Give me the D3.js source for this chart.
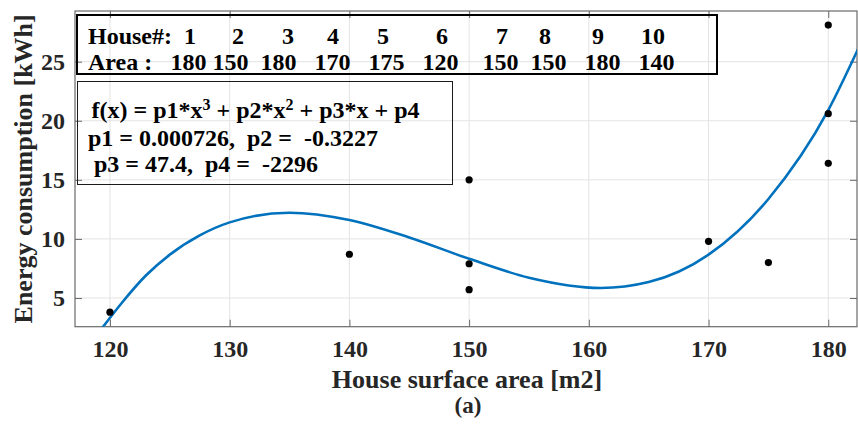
<!DOCTYPE html>
<html>
<head>
<meta charset="utf-8">
<script src="https://cdn.jsdelivr.net/npm/d3@7"></script>
<style>
  html, body { margin: 0; padding: 0; background: #fff; }
  svg { display: block; font-family: "Liberation Serif", "Times New Roman", serif; font-weight: bold; }
  text { white-space: pre; }
</style>
</head>
<body>
<svg id="chart" width="858" height="425"></svg>
<script>
// house table (shown in the top box)
const houseNo = [1, 2, 3, 4, 5, 6, 7, 8, 9, 10];
const houseArea = [180, 150, 180, 170, 175, 120, 150, 150, 180, 140];
// measured consumption, same order as the houses
const houseEnergy = [28.1, 7.9, 20.6, 9.8, 8.0, 3.8, 15.0, 5.7, 16.4, 8.7];

// fitted cubic, points
const fitX = [119.3, 121, 123, 125, 127.5, 130, 135, 140, 145, 150, 155, 161, 165, 170, 175, 180, 182.5];
const fitY = [2.4, 4.6, 6.9, 8.67, 10.3, 11.4, 12.22, 11.6, 10.12, 8.32, 6.72, 5.85, 6.35, 8.67, 13.38, 20.9, 26.1];
const fitCoef = ["0.000726", "-0.3227", "47.4", "-2296"];

const xTicks = [120, 130, 140, 150, 160, 170, 180];
const yTicks = [5, 10, 15, 20, 25];

// --- layout ---
const plot = { left: 75, right: 857, top: 11, bottom: 326.7 };
// column centres of the table text (pixels)
const row1X = [190, 238, 288, 333, 383, 442, 502, 545, 598, 653];
const row2X = [188.5, 230.5, 278.5, 332.5, 386.5, 440.5, 500.5, 548.5, 602.5, 656.5];

const svg = d3.select("#chart");

const x = d3.scaleLinear().domain([117.08, 182.4]).range([plot.left, plot.right]);
const y = d3.scaleLinear().domain([2.57, 29.29]).range([plot.bottom, plot.top]);

// grid
const grid = svg.append("g").attr("stroke", "#e3e3e3").attr("stroke-width", 1);
grid.selectAll(".gx").data(xTicks).join("line")
    .attr("x1", d => x(d)).attr("x2", d => x(d))
    .attr("y1", plot.top).attr("y2", plot.bottom);
grid.selectAll(".gy").data(yTicks).join("line")
    .attr("x1", plot.left).attr("x2", plot.right)
    .attr("y1", d => y(d)).attr("y2", d => y(d));

// axes (ticks point inward, box on)
const axisColor = "#6a6a6a";
function styleAxis(g) {
  g.select(".domain").remove();
  g.selectAll(".tick line").attr("stroke", axisColor);
  g.selectAll(".tick text").attr("fill", "#262626")
    .attr("font-size", 24).attr("font-family", "Liberation Serif").attr("font-weight", "bold");
}
svg.append("g").attr("transform", `translate(0,${plot.bottom})`)
  .call(d3.axisBottom(x).tickValues(xTicks).tickSizeInner(-7).tickSizeOuter(0).tickPadding(13))
  .call(styleAxis);
svg.append("g").attr("transform", `translate(0,${plot.top})`)
  .call(d3.axisTop(x).tickValues(xTicks).tickSizeInner(-7).tickSizeOuter(0).tickFormat(""))
  .call(styleAxis);
svg.append("g").attr("transform", `translate(${plot.left},0)`)
  .call(d3.axisLeft(y).tickValues(yTicks).tickSizeInner(-7).tickSizeOuter(0).tickPadding(10))
  .call(styleAxis);
svg.append("g").attr("transform", `translate(${plot.right},0)`)
  .call(d3.axisRight(y).tickValues(yTicks).tickSizeInner(-7).tickSizeOuter(0).tickFormat(""))
  .call(styleAxis);

svg.append("rect")
  .attr("x", plot.left).attr("y", plot.top)
  .attr("width", plot.right - plot.left).attr("height", plot.bottom - plot.top)
  .attr("fill", "none").attr("stroke", axisColor).attr("stroke-width", 1.2);

// clip for the fit curve
svg.append("clipPath").attr("id", "clip").append("rect")
  .attr("x", plot.left).attr("y", plot.top)
  .attr("width", plot.right - plot.left).attr("height", plot.bottom - plot.top);

const fit = fitX.map((d, i) => [d, fitY[i]]);
svg.append("path")
  .datum(fit)
  .attr("clip-path", "url(#clip)")
  .attr("fill", "none")
  .attr("stroke", "#0072BD")
  .attr("stroke-width", 2.6)
  .attr("d", d3.line().x(d => x(d[0])).y(d => y(d[1])).curve(d3.curveMonotoneX));

// measured points
svg.append("g").selectAll("circle")
  .data(houseArea.map((a, i) => ({ a, e: houseEnergy[i] })))
  .join("circle")
  .attr("cx", d => x(d.a)).attr("cy", d => y(d.e))
  .attr("r", 3.6).attr("fill", "#000");

// table box
svg.append("rect").attr("x", 77).attr("y", 15).attr("width", 640).attr("height", 59)
  .attr("fill", "none").attr("stroke", "#000").attr("stroke-width", 2);
const tbl = svg.append("g").attr("font-size", 24).attr("fill", "#000");
tbl.append("text").attr("x", 88).attr("y", 43.5).text("House#:");
tbl.append("text").attr("x", 88).attr("y", 70).text("Area :");
tbl.selectAll(".n").data(houseNo).join("text")
  .attr("x", (d, i) => row1X[i]).attr("y", 43.5).attr("text-anchor", "middle").text(d => d);
tbl.selectAll(".a").data(houseArea).join("text")
  .attr("x", (d, i) => row2X[i]).attr("y", 70).attr("text-anchor", "middle").text(d => d);

// equation box
svg.append("rect").attr("x", 77.5).attr("y", 81.5).attr("width", 375).attr("height", 103)
  .attr("fill", "none").attr("stroke", "#1a1a1a").attr("stroke-width", 1);
const eq = svg.append("g").attr("font-size", 24).attr("fill", "#000");
const l1 = eq.append("text").attr("x", 91.5).attr("y", 118);
l1.append("tspan").text("f(x) = p1*x");
l1.append("tspan").attr("font-size", 16).attr("dy", -8).text("3");
l1.append("tspan").attr("dy", 8).text(" + p2*x");
l1.append("tspan").attr("font-size", 16).attr("dy", -8).text("2");
l1.append("tspan").attr("dy", 8).text(" + p3*x + p4");
eq.append("text").attr("x", 88).attr("y", 146)
  .text(`p1 = ${fitCoef[0]},  p2 =  ${fitCoef[1]}`);
eq.append("text").attr("x", 88).attr("y", 172)
  .text(` p3 = ${fitCoef[2]},  p4 =  ${fitCoef[3]}`);

// axis labels
svg.append("text")
  .attr("x", (plot.left + plot.right) / 2 + 1).attr("y", 388)
  .attr("text-anchor", "middle").attr("font-size", 26).attr("fill", "#262626")
  .text("House surface area [m2]");
svg.append("text")
  .attr("x", (plot.left + plot.right) / 2 + 2).attr("y", 413)
  .attr("text-anchor", "middle").attr("font-size", 23).attr("fill", "#262626")
  .text("(a)");
svg.append("text")
  .attr("transform", `translate(32,${(plot.top + plot.bottom) / 2}) rotate(-90)`)
  .attr("text-anchor", "middle").attr("font-size", 26).attr("fill", "#262626")
  .text("Energy consumption [kWh]");
</script>
</body>
</html>
